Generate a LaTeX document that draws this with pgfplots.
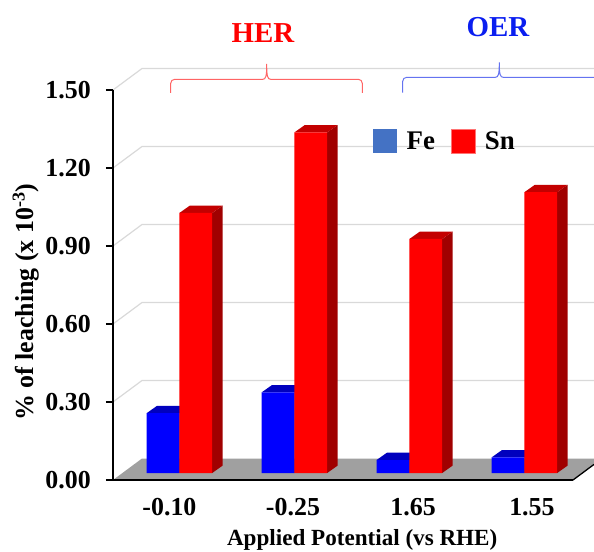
\documentclass[border=0pt]{standalone}
\usepackage{pgfplots}
\usepackage{pgfplotstable}
\pgfplotsset{compat=1.18}
\usepackage{fontspec}
\setmainfont{Liberation Serif}
\definecolor{fefront}{RGB}{0,0,255}
\definecolor{fetop}{RGB}{0,0,190}
\definecolor{feside}{RGB}{0,0,150}
\definecolor{snfront}{RGB}{255,0,0}
\definecolor{sntop}{RGB}{195,0,0}
\definecolor{snside}{RGB}{160,0,0}
\definecolor{legfe}{RGB}{68,114,196}
\definecolor{gridc}{RGB}{217,217,217}
\definecolor{floorc}{RGB}{160,160,160}
\definecolor{herc}{RGB}{255,0,0}
\definecolor{oerc}{RGB}{10,30,240}
\definecolor{herbr}{RGB}{255,100,100}
\definecolor{oerbr}{RGB}{100,115,240}

\pgfdeclareplotmark{bartop}{%
  \pgfpathmoveto{\pgfpoint{-16.4bp}{0bp}}%
  \pgfpathlineto{\pgfpoint{-6.1bp}{7.3bp}}%
  \pgfpathlineto{\pgfpoint{26.7bp}{7.3bp}}%
  \pgfpathlineto{\pgfpoint{16.4bp}{0bp}}%
  \pgfpathclose
  \pgfusepathqfill}
\pgfdeclareplotmark{barside}{%
  \pgfmathsetmacro{\hh}{\barval*260}%
  \pgfpathmoveto{\pgfpoint{16.4bp}{0bp}}%
  \pgfpathlineto{\pgfpoint{26.7bp}{7.3bp}}%
  \pgfpathlineto{\pgfpoint{26.7bp}{7.3bp-\hh bp}}%
  \pgfpathlineto{\pgfpoint{16.4bp}{-\hh bp}}%
  \pgfpathclose
  \pgfusepathqfill}

\pgfplotstableread{
x fe sn
0 0.23 1.00
1 0.31 1.31
2 0.05 0.90
3 0.06 1.08
}\datatable

\begin{document}
\begin{tikzpicture}
\path[use as bounding box] (-113bp,-72bp) rectangle (481bp,480bp);
\begin{axis}[
  at={(0,0)}, anchor=south west,
  x=115bp, y=260bp,
  xmin=0, xmax=4, ymin=0, ymax=1.5,
  axis x line*=bottom, axis y line*=left,
  axis line style={line width=1.3bp, black},
  /pgf/number format/assume math mode=true,
  ytick={0,0.3,0.6,0.9,1.2,1.5},
  yticklabel style={/pgf/number format/fixed, /pgf/number format/fixed zerofill, /pgf/number format/precision=2,
     inner sep=0pt, anchor=east, xshift=-15bp},
  tick label style={font=\fontsize{26}{30}\selectfont\bfseries},
  xtick={0.491,1.565,2.609,3.643},
  xticklabels={-0.10,-0.25,1.65,1.55},
  xticklabel style={inner sep=0pt, anchor=center, yshift=-19.7bp},
  major x tick style={draw=none},
  tick align=outside, major tick length=7bp,
  major y tick style={line width=1.3bp, black},
  xlabel={Applied Potential (vs RHE)},
  xlabel style={font=\fontsize{23.2}{28}\selectfont\bfseries, inner sep=0pt, at={(axis description cs:0.5417,-0.1535)}, anchor=center},
  ylabel={\% of leaching (x 10\textsuperscript{-3})},
  ylabel style={font=\fontsize{26}{30}\selectfont\bfseries, at={(axis description cs:-0.189,0.456)}, anchor=center},
  clip=false, clip marker paths=true, axis on top,
  legend style={at={(axis cs:2.261,1.304)}, anchor=west, draw=none, fill=none, inner sep=0pt,
    legend columns=2, font=\fontsize{27}{32}\selectfont\bfseries,
    /tikz/every odd column/.append style={column sep=8bp},
    /tikz/every even column/.append style={column sep=14bp}},
  legend image code/.code={\fill[#1] (0bp,-12bp) rectangle (23.5bp,12bp);},
]
% side wall and back wall gridlines
\pgfplotsinvokeforeach{0.3,0.6,0.9,1.2,1.5}{
  \draw[gridc, line width=1.2bp] (axis cs:0,#1) -- ++(29bp,21.5bp) -- ([yshift=21.5bp]axis cs:4.183,#1);
}
% floor
\fill[floorc] (axis cs:0,0) -- (axis cs:4,0) -- ++(21bp,15.6bp) -- ++(0bp,5.9bp) -- ([xshift=29bp,yshift=21.5bp]axis cs:0,0) -- cycle;
\draw[black, line width=1.3bp] (axis cs:4,0) -- ++(21bp,15.6bp);

% Fe bars
\addplot[only marks, mark=barside, color=feside, yshift=7bp, forget plot,
  visualization depends on={\thisrow{fe} \as \barval}] table[x expr=\thisrow{x}+0.435, y=fe]{\datatable};
\addplot[only marks, mark=bartop, color=fetop, yshift=7bp, forget plot] table[x expr=\thisrow{x}+0.435, y=fe]{\datatable};
\addplot[ybar, bar shift=0, bar width=0.2855, fill=fefront, draw=none, yshift=7bp, forget plot] table[x expr=\thisrow{x}+0.435, y=fe]{\datatable};
% Sn bars
\addplot[only marks, mark=barside, color=snside, yshift=7bp, forget plot,
  visualization depends on={\thisrow{sn} \as \barval}] table[x expr=\thisrow{x}+0.720, y=sn]{\datatable};
\addplot[only marks, mark=bartop, color=sntop, yshift=7bp, forget plot] table[x expr=\thisrow{x}+0.720, y=sn]{\datatable};
\addplot[ybar, bar shift=0, bar width=0.2855, fill=snfront, draw=none, yshift=7bp, forget plot] table[x expr=\thisrow{x}+0.720, y=sn]{\datatable};

\addlegendimage{fill=legfe, draw=none}
\addlegendentry{Fe}
\addlegendimage{fill=snfront, draw=red!55}
\addlegendentry{Sn}
\end{axis}
% brackets
\draw[herbr, line width=1bp] (57.7bp,387bp) -- (57.7bp,396.7bp) arc[start angle=180,end angle=90,radius=4bp]
  -- (149.7bp,400.7bp) .. controls (152.7bp,400.7bp) and (153.7bp,403bp) .. (153.7bp,416bp)
  .. controls (153.7bp,403bp) and (154.7bp,400.7bp) .. (157.7bp,400.7bp)
  -- (245.3bp,400.7bp) arc[start angle=90,end angle=0,radius=4bp] -- (249.3bp,387bp);
\draw[oerbr, line width=1bp] (289.7bp,387.3bp) -- (289.7bp,398.7bp) arc[start angle=180,end angle=90,radius=4bp]
  -- (382.3bp,402.7bp) .. controls (385.3bp,402.7bp) and (386.3bp,405bp) .. (386.3bp,417.7bp)
  .. controls (386.3bp,405bp) and (387.3bp,402.7bp) .. (390.3bp,402.7bp)
  -- (481bp,402.7bp);
\node[herc, font=\fontsize{29}{34}\selectfont\bfseries, inner sep=0pt] at (150bp,447bp) {HER};
\node[oerc, font=\fontsize{29}{34}\selectfont\bfseries, inner sep=0pt] at (385bp,453bp) {OER};
\end{tikzpicture}
\end{document}
